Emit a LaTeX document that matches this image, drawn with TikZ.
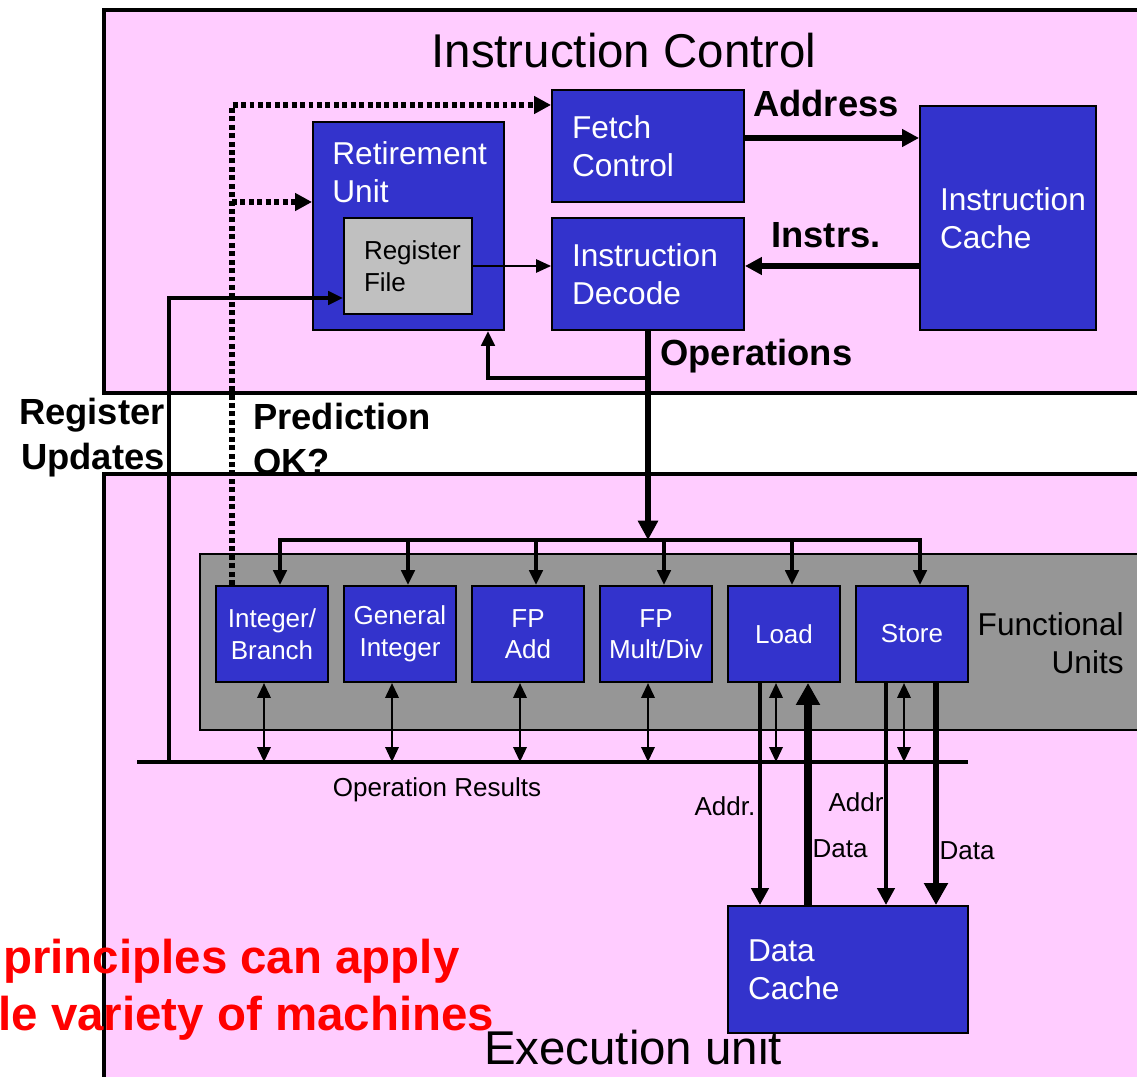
\documentclass[tikz,border=0pt]{standalone}
\usepackage{fontspec}
\setmainfont{Liberation Sans}
\usetikzlibrary{arrows.meta}
\definecolor{pinkbg}{HTML}{FFCCFF}
\definecolor{ublue}{HTML}{3333CC}
\definecolor{fugray}{HTML}{969696}
\definecolor{rfgray}{HTML}{C0C0C0}
\begin{document}
\begin{tikzpicture}[x=0.02cm,y=-0.02cm,>={Triangle[length=8.5pt,width=7.5pt]},
frame/.style={draw=black,line width=1.9pt,fill=pinkbg},
blk/.style 2 args={draw=black,line width=1.1pt,fill=ublue,text=white,inner xsep=0.4cm,inner ysep=0pt,text width=#1,minimum height=#2,align=left,font=\fontsize{18}{21.5}\selectfont},
fu/.style={draw=black,line width=1.1pt,fill=ublue,text=white,inner sep=0pt,minimum width=2.24cm,minimum height=1.92cm,align=center,font=\fontsize{14.8}{18}\selectfont},
lbl/.style={inner sep=0pt,font=\fontsize{20.7}{25.5}\selectfont\bfseries},
sml/.style={inner sep=0pt,font=\fontsize{14.8}{18}\selectfont},
reg/.style={inner sep=0pt,font=\fontsize{18}{21.5}\selectfont},
big/.style={inner sep=0pt,font=\fontsize{27}{32}\selectfont},
dots/.style={line width=3pt,dash pattern=on 2.8pt off 2pt},
midtip/.style={-{Triangle[length=9.6pt,width=9.6pt]}},
bigtip/.style={-{Triangle[length=12.5pt,width=13pt]}}]
\useasboundingbox (0,0) rectangle (1137,1077);
\clip (0,0) rectangle (1137,1077);
\path
(232,105) coordinate (dtop)
(232,202) coordinate (dret)
(169,762) coordinate (ru)
(169,298) coordinate (rucorner)
(137,762) coordinate (resl)
(968,762) coordinate (resr);
% instruction control
\draw[frame] (104,10) rectangle (1150,393);
\node[big] (ictl) at (624,51) {Instruction Control};
\node[lbl,align=right,anchor=east] (regupd) at (165,438) {Register\\Updates};
\node[lbl,align=left,anchor=west] (predok) at (253,439) {Prediction\\OK?};
% execution unit
\draw[frame] (104,474) rectangle (1150,1090);
\draw[line width=1.1pt,fill=fugray] (200,554) rectangle (1150,730);
\node[big] (exec) at (633,1048) {Execution unit};
\node[reg,align=right,anchor=east] (fulbl) at (1124,643) {Functional\\Units};
% blocks
\node[blk={3.04cm}{2.24cm}] (fetch) at (648,146) {Fetch\\Control};
\node[blk={3.04cm}{2.24cm}] (dec) at (648,274) {Instruction\\Decode};
\node[blk={2.72cm}{4.48cm}] (icache) at (1008,218) {Instruction\\Cache};
\node[blk={3.02cm}{4.16cm}] (ret) at (408.5,226) {};
\node[reg,align=left,anchor=west,text=white] (rettxt) at (332,172) {Retirement\\Unit};
\node[blk={1.76cm}{1.92cm},fill=rfgray,text=black,font=\fontsize{14.8}{18}\selectfont] (rf) at (408,266) {Register\\File};
\node[blk={4cm}{2.54cm}] (dcache) at (848,969.5) {Data\\Cache};
% functional units
\foreach \x/\n/\t in {272/intb/{Integer/\\Branch},400/gint/{General\\Integer},528/fpadd/{FP\\Add},656/fpmul/{FP\\Mult/Div},784/load/Load,912/store/Store}{
\node[fu] (\n) at (\x,634) {\t};
\draw[line width=2.3pt,->] ([xshift=0.16cm]\n.north |- 0,540) -- ([xshift=0.16cm]\n.north);
\draw[line width=1.6pt,<->] ([xshift=-0.16cm]\n.south) -- ([xshift=-0.16cm]\n.south |- resl);
}
\draw[line width=2.8pt,line cap=rect] ([xshift=0.16cm]intb.north |- 0,540) -- ([xshift=0.16cm]store.north |- 0,540);
% connectors
\draw[line width=3.5pt,midtip] (fetch.east |- 0,138) -- (icache.west |- 0,138);
\draw[line width=3.5pt,midtip] (icache.west |- 0,266) -- (dec.east |- 0,266);
\draw[line width=1.1pt,->] (rf.east) -- (dec.west |- rf.east);
\draw[line width=3.5pt,-{Triangle[length=11pt,width=11pt]}] (dec.south) -- (dec.south |- 0,540);
\draw[line width=2.3pt,->] (dec.south |- 0,378) -| (ret.south -| 488,0);
\draw[line width=2.3pt,->] (ru) -- (rucorner) -- (rf.west |- rucorner);
\draw[line width=1.9pt] (resl) -- (resr);
\draw[dots,midtip] (intb.north -| dtop) -- (dtop) -- (fetch.west |- dtop);
\draw[dots,midtip] (dret) -- (ret.west |- dret);
\draw[line width=2.5pt,midtip] (load.south -| 760,0) -- (dcache.north -| 760,0);
\draw[line width=4.3pt,bigtip] (dcache.north -| 808,0) -- (load.south -| 808,0);
\draw[line width=2.8pt,midtip] (store.south -| 886,0) -- (dcache.north -| 886,0);
\draw[line width=3.8pt,bigtip] (store.south -| 936,0) -- (dcache.north -| 936,0);
% labels
\node[lbl] (addrlbl) at (826,104) {Address};
\node[lbl] (instrlbl) at (826,235) {Instrs.};
\node[lbl,anchor=west] (oplbl) at (660,356) {Operations};
\node[sml] (reslbl) at (437,790) {Operation Results};
\node[sml] (ldaddr) at (725,806) {Addr.};
\node[sml] (staddr) at (856,802) {Addr};
\node[sml] (lddata) at (840,849) {Data};
\node[sml] (stdata) at (967,851) {Data};
\node[inner sep=0pt,anchor=west,text=red,font=\fontsize{27}{32}\selectfont\bfseries] (note1) at (3,961) {principles can apply};
\node[inner sep=0pt,anchor=west,text=red,font=\fontsize{27}{32}\selectfont\bfseries] (note2) at (-2,1018) {le variety of machines};
\end{tikzpicture}
\end{document}
